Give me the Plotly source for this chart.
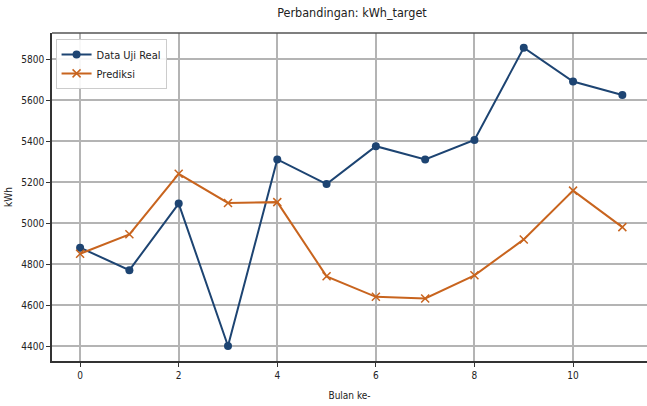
import plotly.graph_objects as go

bulan = list(range(12))
data_uji_real = [4880, 4770, 5095, 4400, 5310, 5190, 5375, 5310, 5405, 5855, 5690, 5625]
prediksi = [4850, 4945, 5240, 5098, 5102, 4740, 4640, 4632, 4745, 4920, 5158, 4980]
y_ticks = [4400, 4600, 4800, 5000, 5200, 5400, 5600, 5800]
x_ticks = [0, 2, 4, 6, 8, 10]

FONT = "DejaVu Sans Condensed, DejaVu Sans, sans-serif"
BLUE = "#1d4472"
ORANGE = "#c8641e"

fig = go.Figure()
fig.add_trace(go.Scatter(x=bulan, y=data_uji_real, mode="lines+markers", name="Data Uji Real",
                         line=dict(color=BLUE, width=2), marker=dict(symbol="circle", size=8, color=BLUE)))
fig.add_trace(go.Scatter(x=bulan, y=prediksi, mode="lines+markers", name="Prediksi",
                         line=dict(color=ORANGE, width=2), marker=dict(symbol="x-thin", size=8, color=ORANGE,
                                                                      line=dict(color=ORANGE, width=1.5))))

fig.update_layout(
    width=647, height=406,
    margin=dict(l=52, r=0, t=33, b=45),
    paper_bgcolor="white", plot_bgcolor="white",
    font=dict(family=FONT, size=10, color="#222"),
    title=dict(text="Perbandingan: kWh_target", x=0.544, xanchor="center", y=0.968, yanchor="middle",
               font=dict(size=12.5, family=FONT, color="#222")),
    legend=dict(x=0.006, y=0.982, xanchor="left", yanchor="top", bgcolor="rgba(255,255,255,0.9)",
                bordercolor="#cccccc", borderwidth=1, font=dict(size=11, family=FONT),
                itemwidth=30),
    showlegend=True,
)
fig.update_xaxes(range=[-0.57, 11.5], tickvals=x_ticks, ticks="outside", ticklen=4, tickcolor="#333",
                 showgrid=True, gridcolor="#b4b4b4", gridwidth=1.5, zeroline=False,
                 showline=True, linecolor="#333", linewidth=1.5, mirror=False,
                 title=dict(text="Bulan ke-", font=dict(size=10, family=FONT), standoff=12),
                 tickfont=dict(size=10))
fig.update_yaxes(range=[4327, 5927], tickvals=y_ticks, ticks="outside", ticklen=4, tickcolor="#333",
                 showgrid=True, gridcolor="#b4b4b4", gridwidth=1.5, zeroline=False,
                 showline=True, linecolor="#333", linewidth=1.5,
                 title=dict(text="kWh", font=dict(size=10, family=FONT), standoff=7),
                 tickfont=dict(size=10))
# top spine
fig.add_shape(type="line", xref="paper", yref="paper", x0=0, x1=1, y0=1, y1=1,
              line=dict(color="#555", width=1.5))

fig.write_html("out.html", config={"displayModeBar": False},
               post_script="document.body.style.margin='0';")
